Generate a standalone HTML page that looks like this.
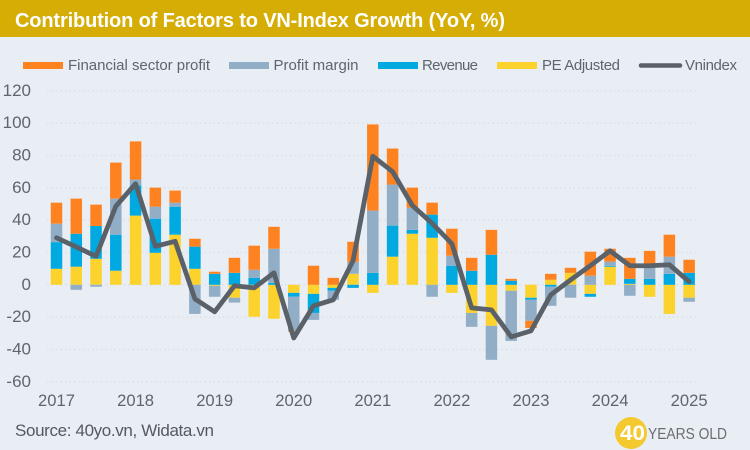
<!DOCTYPE html>
<html>
<head>
<meta charset="utf-8">
<title>Contribution of Factors to VN-Index Growth</title>
<style>
html,body{margin:0;padding:0;width:750px;height:450px;overflow:hidden;background:#e9eef5;}
svg{display:block;font-family:"Liberation Sans",sans-serif;}
</style>
</head>
<body>
<svg id="chart" width="750" height="450" viewBox="0 0 750 450" xmlns="http://www.w3.org/2000/svg">
  <rect x="0" y="0" width="750" height="450" fill="#e9eef5"/>
  <rect x="0" y="0" width="750" height="37" fill="#d5ad05"/>
  <text x="15" y="27" font-size="20" font-weight="700" fill="#ffffff" textLength="490" lengthAdjust="spacing">Contribution of Factors to VN-Index Growth (YoY, %)</text>

  <g font-size="15" fill="#5f656d">
    <g>
      <rect x="23" y="62" width="40" height="7" fill="#ff8221"/>
      <text x="68" y="70" textLength="142" lengthAdjust="spacing">Financial sector profit</text>
    </g>
    <g>
      <rect x="229" y="62" width="40" height="7" fill="#92aec6"/>
      <text x="273.5" y="70" textLength="85" lengthAdjust="spacing">Profit margin</text>
    </g>
    <g>
      <rect x="378" y="62" width="40" height="7" fill="#00a9e0"/>
      <text x="422" y="70" textLength="56" lengthAdjust="spacing">Revenue</text>
    </g>
    <g>
      <rect x="497" y="62" width="40" height="7" fill="#fcd22c"/>
      <text x="542" y="70" textLength="78" lengthAdjust="spacing">PE Adjusted</text>
    </g>
    <g>
      <line x1="641" y1="65.5" x2="680" y2="65.5" stroke="#5a6169" stroke-width="4.5" stroke-linecap="round"/>
      <text x="685" y="70" textLength="52" lengthAdjust="spacing">Vnindex</text>
    </g>
  </g>

  <g id="grid"></g>
  <g id="yLabels"></g>
  <g id="bars"></g>
  <g id="lineLayer"></g>
  <g id="xLabels"></g>

  <text x="15" y="436" font-size="17" fill="#55595f" textLength="199" lengthAdjust="spacing">Source: 40yo.vn, Widata.vn</text>

  <g>
    <circle cx="631" cy="433" r="16" fill="#f4c92f"/>
    <text x="620" y="440" font-size="21.5" font-weight="700" fill="#ffffff" textLength="25" lengthAdjust="spacingAndGlyphs">40</text>
    <text x="648" y="439" font-size="16" fill="#6a6e72" textLength="79" lengthAdjust="spacingAndGlyphs">YEARS OLD</text>
  </g>
</svg>
<script>
const categories = ["2017Q1","2017Q2","2017Q3","2017Q4","2018Q1","2018Q2","2018Q3","2018Q4","2019Q1","2019Q2","2019Q3","2019Q4","2020Q1","2020Q2","2020Q3","2020Q4","2021Q1","2021Q2","2021Q3","2021Q4","2022Q1","2022Q2","2022Q3","2022Q4","2023Q1","2023Q2","2023Q3","2023Q4","2024Q1","2024Q2","2024Q3","2024Q4","2025Q1"];
const peAdjusted = [9.9,11.2,16.1,8.7,42.8,19.8,31,9.9,-0.6,-8,-19.8,-21,-5,-5.6,-1.9,6.8,-5,17.4,31.6,29.1,-5,-17.4,-25.4,-3.7,-8,3.1,7.4,-5.6,11.2,0.6,-7.4,-18,-8];
const revenue = [16.5,20.4,20.3,22.3,18.6,21.1,17.3,13.7,6.8,7.4,4.3,1.2,-2.4,-11.8,-1.8,-1.9,7.4,19.2,2.4,14.3,11.8,8.7,18.6,2.5,-1.3,-1.2,0,-1.8,0.6,3.1,3.7,6.8,7.4];
const profitMargin = [11.4,-3.1,-1.2,22.3,3.7,7.4,2.5,-18,-6.8,-3,5,21.1,-21,-4.3,-5.6,7.4,38.5,25.4,13.7,-7.4,6.2,-8.6,-21,-31,-13,-11.8,-8,5.6,2.5,-6.8,9.3,10.6,-2.5];
const financial = [13,21.7,13.2,22.3,23.6,11.8,7.5,4.9,1.3,9.3,14.9,13.6,-0.6,11.8,4.3,12.4,53.3,22.3,12.4,7.4,16.7,8,15.4,1.2,-4.4,3.7,3.1,14.9,8,13,8,13.6,8.1];
const vnindex = [29.1,23.4,17.6,48.6,62.5,23.8,26.9,-8.7,-16.7,-0.6,-1.9,7.4,-32.9,-13,-9.3,14.9,79.5,70,49,38,25.4,-14.3,-15.5,-32.2,-28.5,-6.2,3,11.8,21,11.8,11.8,12.4,1.9];
const yTicks = [120,100,80,60,40,20,0,-20,-40,-60];
const xTickYears = ["2017","2018","2019","2020","2021","2022","2023","2024","2025"];

const NS = "http://www.w3.org/2000/svg";
const seriesList = [
  {name:"pe-adjusted", values:peAdjusted, color:"#fcd22c"},
  {name:"revenue", values:revenue, color:"#00a9e0"},
  {name:"profit-margin", values:profitMargin, color:"#92aec6"},
  {name:"financial", values:financial, color:"#ff8221"}
];

function xScale(i){ return 56.5 + i * 19.77; }
function yScale(v){ return 284.8 - v * 1.6167; }

function make(tag, attrs){
  const el = document.createElementNS(NS, tag);
  for (const k in attrs) el.setAttribute(k, attrs[k]);
  return el;
}

const grid = document.getElementById("grid");
const yLabels = document.getElementById("yLabels");
yTicks.forEach(function(t){
  const g = make("line", {x1:47, x2:697, y1:yScale(t), y2:yScale(t), stroke:"#dbe0e7", "stroke-width":1.5, "stroke-dasharray":"1.5 3"});
  
  
  grid.appendChild(g);
  const lab = make("text", {x:31, y:yScale(t)+5, "font-size":17, "text-anchor":"end", fill:"#5f656d"});
  
  
  lab.textContent = t;
  yLabels.appendChild(lab);
});

const bars = document.getElementById("bars");
const barWidth = 11.5;
categories.forEach(function(c, i){
  let pos = 0, neg = 0;
  seriesList.forEach(function(s){
    const v = s.values[i];
    if (!v) return;
    let from, to;
    if (v >= 0) { from = pos; to = pos + v; pos = to; }
    else { from = neg; to = neg + v; neg = to; }
    const top = Math.min(yScale(from), yScale(to));
    const h = Math.abs(yScale(from) - yScale(to));
    const r = make("rect", {x:xScale(i)-barWidth/2, y:top, width:barWidth, height:h, fill:s.color});
    
    
    bars.appendChild(r);
  });
});

const pts = vnindex.map(function(v, i){ return xScale(i).toFixed(2) + "," + yScale(v).toFixed(2); }).join(" ");
const line = make("polyline", {points:pts, fill:"none", stroke:"#5a6169", "stroke-width":4.8, "stroke-linejoin":"round", "stroke-linecap":"round"});


document.getElementById("lineLayer").appendChild(line);

const xLabels = document.getElementById("xLabels");
xTickYears.forEach(function(y){
  const idx = categories.indexOf(y + "Q1");
  const t = make("text", {x:xScale(idx), y:406, "font-size":16.6, "text-anchor":"middle", fill:"#5f656d"});
  
  
  t.textContent = y;
  xLabels.appendChild(t);
});
</script>
</body>
</html>
